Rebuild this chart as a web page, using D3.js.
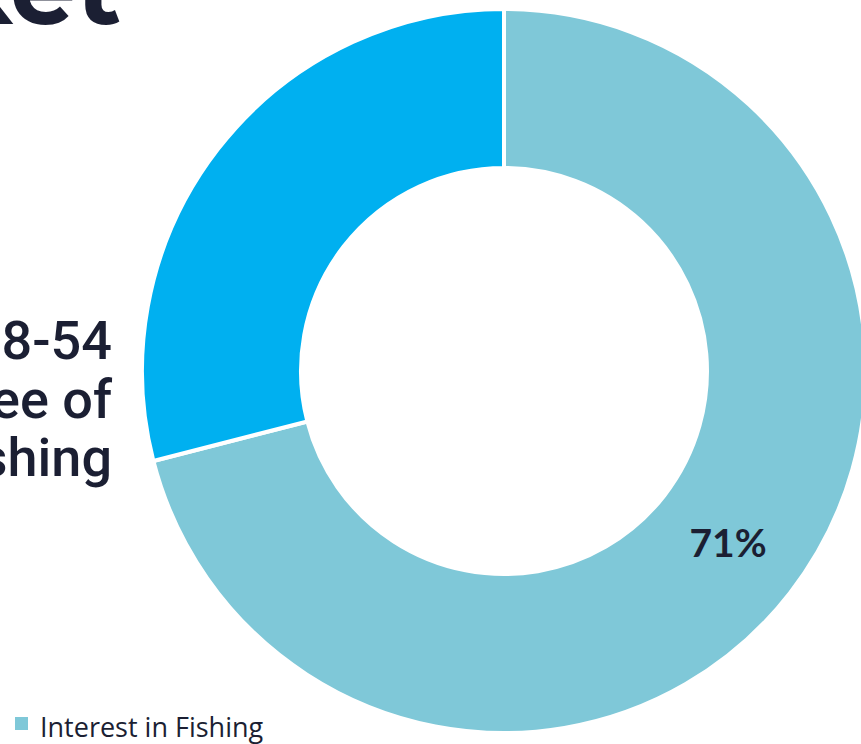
<!DOCTYPE html>
<html>
<head>
<meta charset="utf-8">
<script src="https://cdn.jsdelivr.net/npm/d3@7"></script>
<style>
  html, body { margin: 0; padding: 0; background: #ffffff; }
  svg { display: block; }
</style>
</head>
<body>
<svg id="chart" width="861" height="744"></svg>
<script>
// Share of respondents by interest in fishing
const categories = ["Interest in Fishing", "No Interest"];
const values = [71, 29];
const colors = ["#7fc8d8", "#00b0f0"];
const legendItems = ["Interest in Fishing"];
const headingLines = ["8-54", "ee of", "shing"];
const titleText = "Market";

const svg = d3.select("#chart");
const ink = "#1b1f33";

// Slide title (runs off the top-left edge)
svg.append("text")
  .attr("x", 121).attr("y", 24)
  .attr("text-anchor", "end")
  .attr("font-family", "Montserrat, Inter, sans-serif")
  .attr("font-weight", 700)
  .attr("font-size", 104)
  .attr("fill", ink)
  .text(titleText);

// Side heading text
svg.append("g").selectAll("text")
  .data(headingLines)
  .join("text")
  .attr("x", 112)
  .attr("y", (d, i) => 359 + i * 58.5)
  .attr("text-anchor", "end")
  .attr("font-family", "Roboto, Inter, sans-serif")
  .attr("font-weight", 500)
  .attr("font-size", 54)
  .attr("fill", ink)
  .text(d => d);

// Donut
const cx = 504, cy = 371, outerR = 362, innerR = 203;
const pie = d3.pie().sort(null).value(d => d.value);
const arc = d3.arc().innerRadius(innerR).outerRadius(outerR);
const data = categories.map((c, i) => ({ cat: c, value: values[i], color: colors[i] }));
const arcs = pie(data);

const g = svg.append("g").attr("transform", `translate(${cx},${cy})`);
g.selectAll("path")
  .data(arcs)
  .join("path")
  .attr("d", arc)
  .attr("fill", d => d.data.color)
  .attr("stroke", "#ffffff")
  .attr("stroke-width", 4)
  .attr("stroke-linejoin", "miter");

// Value label on the main slice
const main = arcs[0];
g.append("text")
  .attr("x", 224).attr("y", 176)
  .attr("text-anchor", "middle")
  .attr("dominant-baseline", "middle")
  .attr("font-family", "Lato, 'Open Sans', sans-serif")
  .attr("font-weight", 700)
  .attr("font-size", 39)
  .attr("fill", ink)
  .text(d3.format(".0f")(main.data.value) + "%");

// Legend
const lg = svg.append("g").selectAll("g")
  .data(legendItems)
  .join("g")
  .attr("transform", "translate(15,717)");
lg.append("rect")
  .attr("width", 13).attr("height", 13)
  .attr("fill", (d, i) => colors[i]);
lg.append("text")
  .attr("x", 25).attr("y", 20)
  .attr("font-family", "'Open Sans', sans-serif")
  .attr("font-size", 27)
  .attr("fill", ink)
  .text(d => d);
</script>
</body>
</html>
